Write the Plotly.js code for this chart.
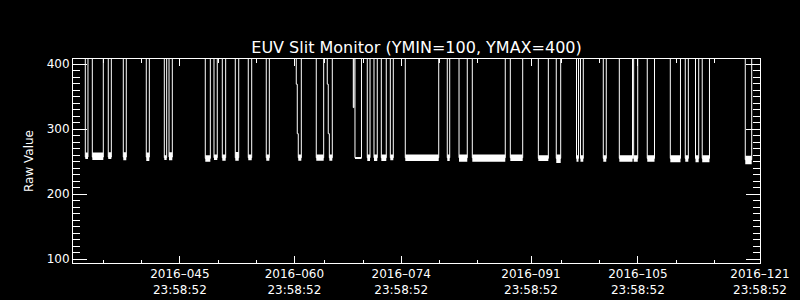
<!DOCTYPE html>
<html><head><meta charset="utf-8">
<script src="https://cdn.plot.ly/plotly-3.0.1.min.js"></script>
<style>html,body{margin:0;padding:0;background:#000;}</style>
</head><body>
<div id="chart" style="width:800px;height:300px;"></div>
<script>
// Time unit: fractional day-of-year 2016. 23:58:52 = 86332/86400 of a day.
const TOD = 86332 / 86400;
const HIGH = 1000; // off-scale raw level between slit events (clipped above YMAX)

// Raw-value samples (step-held between samples)
const sampleDay = [
  31 + TOD,
  33.61, 33.96, 34.53, 35.97, 36.62, 37.02, 38.59, 38.98, 41.60, 42.00,
  43.96, 44.27, 44.58, 45.01, 49.33, 49.99, 50.47, 50.90, 51.56, 52.00,
  53.26, 53.71, 54.96, 55.41, 57.32, 57.72,
  61.25, 61.38, 61.51, 61.91, 63.87, 64.84,
  65.31, 65.44, 65.58, 65.97,
  68.72, 68.80, 68.94, 69.79,
  70.55, 70.91, 71.43, 71.86, 72.39, 73.04, 73.57, 73.96, 75.53, 79.91,
  81.03, 81.35, 82.57, 83.65, 84.31, 88.63, 89.29, 90.91, 92.96, 94.27,
  95.31, 95.89, 97.96, 98.22, 98.48, 98.85, 101.47, 101.86, 103.57, 105.30,
  105.45, 105.98, 107.23, 108.18, 110.25, 111.58, 112.21, 112.61, 113.55, 113.97,
  114.43, 115.38, 120.07, 120.91,
  121 + TOD
];
const sampleRaw = [
  HIGH,
  257, HIGH, 257, HIGH, 257, HIGH, 257, HIGH, 257, HIGH,
  256, HIGH, 257, HIGH, 255, HIGH, 256, HIGH, 256, HIGH,
  256, HIGH, 256, HIGH, 256, HIGH,
  369, 293, 256, HIGH, 256, HIGH,
  369, 293, 256, HIGH,
  333, HIGH, 256, HIGH,
  256, HIGH, 256, HIGH, 256, HIGH, 256, HIGH, 256, HIGH,
  256, HIGH, 256, HIGH, 256, HIGH, 256, HIGH, 255, HIGH,
  255, HIGH, 255, HIGH, 255, HIGH, 255, HIGH, 255, HIGH,
  255, HIGH, 255, HIGH, 255, HIGH, 255, HIGH, 255, HIGH,
  255, HIGH, 253, HIGH,
  HIGH
];

// Noise envelope of the raw value during each low period
const bandStart = [33.61, 34.53, 36.62, 38.59, 41.60, 43.96, 44.58, 49.33, 50.47, 51.56,
  53.26, 54.96, 57.32, 61.51, 63.87, 65.58, 68.94, 70.55, 71.43, 72.39,
  73.57, 75.53, 81.03, 82.57, 84.31, 89.29, 92.96, 95.31, 97.96, 98.48,
  101.47, 103.57, 105.45, 107.23, 110.25, 112.21, 113.55, 114.43, 120.07];
const bandEnd = [33.96, 35.97, 37.02, 38.98, 42.00, 44.27, 45.01, 49.99, 50.90, 52.00,
  53.71, 55.41, 57.72, 61.91, 64.84, 65.97, 69.79, 70.91, 71.86, 73.04,
  73.96, 79.91, 81.35, 83.65, 88.63, 90.91, 94.27, 95.89, 98.22, 98.85,
  101.86, 105.30, 105.98, 108.18, 111.58, 112.61, 113.97, 115.38, 120.91];
const bandMin = [254, 252.5, 254, 252, 251, 252.5, 252, 250, 252.5, 251.5,
  251.5, 252, 251.5, 251.5, 251.5, 251.5, 254, 251, 251, 251,
  252, 251, 251, 250, 250, 251, 251, 248, 250, 250,
  250, 250, 250, 250, 249, 250, 249, 249, 246];
const bandMax = [264, 264, 264.5, 264.5, 264, 260, 264.5, 260, 261, 261,
  265, 261, 261, 261, 261, 261, 257, 261, 261, 261,
  261, 261, 261, 261, 261, 261, 260, 261, 260, 260,
  260, 260, 260, 260, 260, 260, 260, 260, 259];

// Axis ticks
const majorDoy = [45, 60, 74, 91, 105, 121];
const minorDoy = [35, 40, 50, 55, 64, 69, 79, 84, 95, 100, 110, 115];
const yTicks = [100, 200, 300, 400];

const pad3 = n => String(n).padStart(3, '0');
const bx = [], by = [];
for (let i = 0; i < bandStart.length; i++) {
  bx.push(bandStart[i], bandEnd[i], bandEnd[i], bandStart[i], bandStart[i], null);
  by.push(bandMin[i], bandMin[i], bandMax[i], bandMax[i], bandMin[i], null);
}

const font = {family: 'DejaVu Sans, sans-serif', color: '#ffffff', size: 12};

const traces = [
  {x: bx, y: by, type: 'scatter', mode: 'lines', fill: 'toself', fillcolor: '#ffffff',
   line: {width: 0, color: '#ffffff'}, hoverinfo: 'skip', showlegend: false},
  {x: sampleDay, y: sampleRaw, type: 'scatter', mode: 'lines',
   line: {color: '#ffffff', width: 1, shape: 'hv'}, showlegend: false}
];

const layout = {
  width: 800, height: 300,
  paper_bgcolor: '#000000', plot_bgcolor: '#000000',
  margin: {l: 73, r: 40, t: 59, b: 37, pad: 0},
  font: font,
  showlegend: false,
  title: {text: 'EUV Slit Monitor (YMIN=100, YMAX=400)', font: {family: font.family, color: '#ffffff', size: 16},
          x: 0.5, xref: 'paper', xanchor: 'center', y: 1 - 47 / 300, yref: 'container', yanchor: 'middle'},
  xaxis: {
    range: [31 + TOD, 121 + TOD],
    tickmode: 'array', tickvals: majorDoy.map(d => d + TOD),
    ticktext: majorDoy.map(d => '2016\u2013' + pad3(d) + '<br>23:58:52'),
    ticks: 'inside', ticklen: 7, tickwidth: 1, tickcolor: '#ffffff',
    minor: {tickmode: 'array', tickvals: minorDoy.map(d => d + TOD), ticks: 'inside', ticklen: 3.5, tickwidth: 1, tickcolor: '#ffffff', showgrid: false},
    showline: true, linecolor: '#ffffff', linewidth: 1, mirror: 'ticks',
    showgrid: false, zeroline: false, tickfont: font
  },
  yaxis: {
    range: [94.3, 407.7],
    tickmode: 'array', tickvals: yTicks,
    ticks: 'inside', ticklen: 14, tickwidth: 1, tickcolor: '#ffffff',
    minor: {tick0: 100, dtick: 10, ticks: 'inside', ticklen: 7, tickwidth: 1, tickcolor: '#ffffff', showgrid: false},
    showline: true, linecolor: '#ffffff', linewidth: 1, mirror: 'ticks',
    showgrid: false, zeroline: false, tickfont: font,
    title: {text: 'Raw Value', font: font, standoff: 10}
  }
};

Plotly.newPlot('chart', traces, layout, {staticPlot: true, displayModeBar: false});
</script>
</body></html>
